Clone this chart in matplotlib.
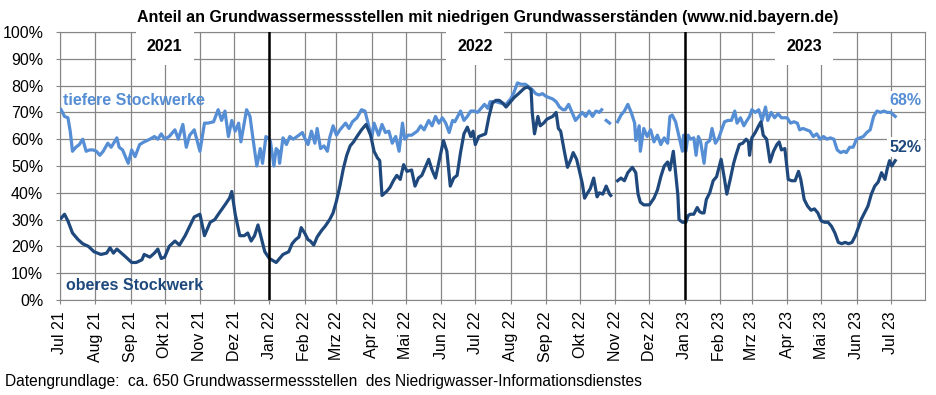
import numpy as np
import pandas as pd
import matplotlib
matplotlib.use("Agg")
import matplotlib.pyplot as plt

plt.rcParams["font.family"] = ["Liberation Sans", "DejaVu Sans"]

# =========================
# Daten (Tage seit 01.07.2021, Anteil in %)
# =========================
nan = np.nan

tief_tage = [1, 4, 7, 9, 11, 14, 17, 20, 23, 26, 29, 32, 35, 38, 42, 45, 50, 52, 55, 60,
             63, 66, 70, 74, 79, 83, 86, 89, 92, 96, 101, 104, 108, 111, 114, 118, 123, 127, 130, 135,
             139, 142, 145, 148, 151, 154, 157, 159, 164, 167, 170, 173, 176, 178, 181, 184,
             185, 188, 190, 192, 193, 196, 199, 202, 205, 210, 213, 215, 218, 221, 224, 226, 229, 232,
             235, 237, 240, 243, 246, 251, 254, 257, 261, 265, 268, 271, 274, 276, 280, 283, 286, 289,
             292, 295, 298, 301, 303, 306, 309, 314, 317, 320, 324, 327, 330, 333, 336, 339, 342, 345,
             347, 352, 355, 358, 361,
             364, 367, 370, 373, 376, 378, 383, 387, 392, 396, 399, 402, 405, 409, 412, 415, 418, 421,
             424, 427, 430, 433, 436, 439, 442, 444, 447, 450, 453, 456, 459, 462, 465, 468, 471, 474,
             476, 478, 480, 483, 486, 490, 493, 496, 499, 502, 505, 506, 509, 510, 513, 516, 519, 522,
             525, 528, 531, 534, 536, 538, 541, 544, 547,
             548, 550, 552, 554, 557, 559, 561, 563, 566, 568, 571, 573, 576, 579, 581, 584, 587, 590,
             593, 595, 598, 601, 603, 606, 608, 611, 614, 617, 620, 622, 625, 628, 631, 634, 639, 642,
             645, 648, 650, 653, 656, 659, 662, 665, 668, 671, 674, 677, 680, 683, 686, 689, 691, 694,
             697, 700, 703, 706, 709, 712, 715, 718, 721, 724, 727, 730, 734]
tief_werte = [71, 68.5, 68, 63, 55.5, 57, 58, 60, 55.5, 56, 56, 55.5, 54, 55.5, 58.5, 57, 60.5, 57, 56, 51,
              56, 53.5, 58, 59, 60, 61, 60, 62, 60, 61, 63.5, 60, 65.5, 57, 61.5, 63.5, 55.5, 66, 66, 66.5,
              71, 67, 70.5, 61, 67, 63, 66, 59, 71, 68.5, 59, 50, 56.5, 51, 61, 60,
              59, 50, 56.5, 55.5, 51, 60.5, 58, 61, 60, 61.5, 62.5, 60.5, 58, 63, 58.5, 64, 56.5, 57.5,
              55.5, 60.5, 65, 61.5, 63.5, 66, 64, 66.5, 68, 71, 70.5, 65.5, 60.5, 66, 61.5, 65.5, 62.5, 63,
              58.5, 61, 55.5, 66, 60, 61.5, 61.5, 63, 65, 63.5, 67, 65, 68.5, 66, 68, 66, 62.5, 67,
              66.5, 70.5, 67, 68.5, 70.5,
              70.5, 70, 71.5, 73, 71.5, 74, 74, 73.5, 73, 75, 77.5, 81, 80.5, 80.5, 79.5, 78.5, 77, 76.5,
              77, 76, 75.5, 75, 74, 72, 71, 71, 73, 70, 67, 68.5, 70, 68.5, 70.5, 68.5, 70.5, 70,
              71, nan, 67, 66, nan, 66.5, 69, 70.5, 73, 70, 66, 59.5, 65, 55.5, 64, 61, 63.5, 59,
              61.5, 58, 60.5, 58.5, 68.5, 69, 66.5, 61, 55.5,
              61.5, 55.5, 61.5, 60, 60.5, 54, 61, 59, 51, 58.5, 59.5, 64, 58.5, 60.5, 63, 66.5, 67, 67,
              70.5, 66, 68, 65, 66.5, 68.5, 71, 70, 71, 67, 72, 67, 70, 68, 69.5, 68, 68, 66,
              66.5, 66, 63.5, 64, 63.5, 63, 61, 62, 60, 61, 60, 60.5, 60, 56, 55, 55.5, 55, 57,
              57, 60, 60.5, 61, 62.5, 63.5, 68.5, 70.5, 70, 70.5, 70, 70, 68.5]

ober_tage = [1, 4, 7, 11, 16, 20, 25, 30, 36, 41, 44, 47, 50, 54, 58, 63, 67, 72, 74, 79,
             83, 86, 89, 92, 96, 101, 105, 110, 114, 118, 123, 127, 132, 136, 140, 145, 149, 151, 154, 158,
             162, 165, 168, 171, 174, 177, 180, 184,
             186, 190, 193, 196, 201, 204, 207, 210, 212, 215, 218, 220, 223, 226, 230, 233, 237, 240,
             243, 246, 249, 252, 255, 258, 261, 265, 269, 273, 276, 279, 281, 283, 287, 290, 293, 296,
             299, 302, 305, 309, 312, 315, 318, 321, 324, 327, 330, 333, 337, 340, 343, 346, 349, 352,
             355, 358, 361, 363,
             365, 368, 371, 374, 377, 380, 383, 386, 389, 392, 395, 399, 403, 408, 411, 414, 415, 417,
             420, 422, 425, 428, 433, 436, 438, 440, 443, 446, 449, 451, 454, 456, 459, 461, 463, 466,
             469, 472, 474, 477, 480, 483, 484, 487, 490, 493, 496, 499, 503, 506, 508, 510, 513, 518,
             522, 525, 528, 531, 534, 536, 539, 541, 543, 544, 547,
             550, 552, 554, 557, 560, 562, 564, 566, 568, 571, 574, 577, 580, 581, 584, 586, 589, 592,
             594, 597, 600, 603, 605, 606, 608, 611, 614, 616, 618, 621, 624, 627, 630, 632, 634, 637,
             640, 643, 646, 649, 651, 654, 657, 660, 663, 666, 669, 672, 675, 678, 681, 684, 687, 690,
             693, 696, 699, 702, 704, 707, 710, 713, 716, 719, 722, 725, 727, 729, 731, 734]
ober_werte = [30.5, 32, 29.5, 25, 22.5, 21, 20, 18, 17, 17.5, 19.5, 17.5, 19, 17.5, 16, 14, 14, 15, 17, 16,
              17.5, 19, 15.5, 16, 20, 22, 20.5, 24, 27.5, 31, 32, 24, 29, 30, 32.5, 35.5, 38, 40.5, 32, 24,
              24, 25, 22, 24, 28, 23, 18, 15.5,
              15, 14, 15.5, 17, 18, 21, 22.5, 23.5, 27, 25, 22.5, 22, 20.5, 23.5, 26, 27.5, 30, 32.5,
              37, 42.5, 49, 54, 57.5, 59, 61, 63.5, 65.5, 61.5, 55.5, 53, 52, 39, 40.5, 42, 44.5, 46.5,
              45, 50.5, 48, 48.5, 42.5, 45.5, 46.5, 49.5, 52.5, 48.5, 45.5, 51.5, 59.5, 55.5, 42.5, 45.5, 46.5, 55,
              62, 64.5, 61, 63,
              58, 61, 61.5, 62, 68.5, 73.5, 74.5, 74.5, 73.5, 72, 73.5, 75.5, 77, 79, 79.5, 78.5, 70, 62,
              68.5, 65, 66, 67.5, 68.5, 70, 64, 63, 56, 49.5, 52.5, 55, 52.5, 49, 43.5, 38, 39.5, 41.5,
              45.5, 38.5, 40, 39.5, 42.5, 39.5, 39, nan, 44.5, 45.5, 44.5, 47.5, 49.5, 47.5, 39.5, 36.5, 35.5, 35.5,
              38, 41, 46, 50, 51.5, 48.5, 55.5, 47.5, 39, 30, 29,
              29, 31.5, 32, 32, 34.5, 33, 32.5, 32.5, 37.5, 40, 44.5, 46, 51, 52.5, 45, 39.5, 45, 51,
              54, 58, 58.5, 60, 59, 54, 60.5, 62.5, 65, 66.5, 61.5, 60, 51.5, 55.5, 58, 59, 56, 56.5,
              45, 44.5, 44.5, 48, 45, 37.5, 35, 33.5, 34, 32.5, 29.5, 29, 29, 27.5, 25, 21.5, 21, 21.5,
              21, 21.5, 24, 27.5, 30, 32.5, 35, 39.5, 42.5, 44, 47.5, 45, 49, 52, 50, 52]

monats_namen = ["Jan", "Feb", "Mrz", "Apr", "Mai", "Jun", "Jul", "Aug", "Sep", "Okt", "Nov", "Dez"]
jahr_labels = ["2021", "2022", "2023"]
jahr_datum = ["2021-10-01", "2022-07-01", "2023-04-16"]

start = pd.Timestamp("2021-07-01")
tief_x = start + pd.to_timedelta(tief_tage, unit="D")
ober_x = start + pd.to_timedelta(ober_tage, unit="D")

HELL = "#558ED5"
DUNKEL = "#1F497D"
GRAU = "#868686"
FS = 11.5

# =========================
# Plot
# =========================
fig = plt.figure(figsize=(9.37, 3.95), dpi=100)
ax = fig.add_axes([0.064, 0.2405, 0.923, 0.6785])

ax.plot(tief_x, tief_werte, color=HELL, lw=2.3, zorder=3)
ax.plot(ober_x, ober_werte, color=DUNKEL, lw=2.3, zorder=4)

for d in ["2022-01-01", "2023-01-01"]:
    ax.axvline(pd.Timestamp(d), color="black", lw=1.8, zorder=5)

ax.set_xlim(start, pd.Timestamp("2023-07-31"))
ax.set_ylim(0, 100)
ax.set_yticks(range(0, 101, 10))
ax.set_yticklabels([f"{v}%" for v in range(0, 101, 10)])

monate = pd.date_range("2021-07-01", "2023-07-01", freq="MS")
ax.set_xticks(monate)
ax.set_xticklabels([f"{monats_namen[m.month - 1]} {m.strftime('%y')}" for m in monate], rotation=90)

ax.grid(True, color=GRAU, lw=0.9, zorder=0)
for s in ax.spines.values():
    s.set_color(GRAU)
ax.tick_params(axis="both", labelsize=FS, color=GRAU, length=3)
ax.tick_params(axis="y", pad=9)
ax.tick_params(axis="x", pad=5)

for txt, d in zip(jahr_labels, jahr_datum):
    ax.text(pd.Timestamp(d), 94.5, txt, ha="center", va="center", fontsize=FS, fontweight="bold",
            bbox=dict(facecolor="white", edgecolor="none", pad=8), zorder=6)

ax.text(start + pd.Timedelta(days=3), 74.5, "tiefere Stockwerke", color=HELL, fontsize=FS,
        fontweight="bold", va="center", zorder=6)
ax.text(start + pd.Timedelta(days=5), 5.5, "oberes Stockwerk", color=DUNKEL, fontsize=FS,
        fontweight="bold", va="center", zorder=6)
ax.text(pd.Timestamp("2023-06-30"), 74.5, "68%", color=HELL, fontsize=FS, fontweight="bold",
        va="center", zorder=6, bbox=dict(facecolor="white", edgecolor="none", pad=1))
ax.text(pd.Timestamp("2023-06-30"), 57, "52%", color=DUNKEL, fontsize=FS, fontweight="bold",
        va="center", zorder=6, bbox=dict(facecolor="white", edgecolor="none", pad=2))

ax.set_title("Anteil an Grundwassermessstellen mit niedrigen Grundwasserständen (www.nid.bayern.de)",
             fontsize=FS, fontweight="bold", pad=7, x=0.494)

fig.text(0.005, 0.033, "Datengrundlage:  ca. 650 Grundwassermessstellen  des Niedrigwasser-Informationsdienstes",
         fontsize=11.2, va="center")

fig.savefig("out.png", dpi=100)
